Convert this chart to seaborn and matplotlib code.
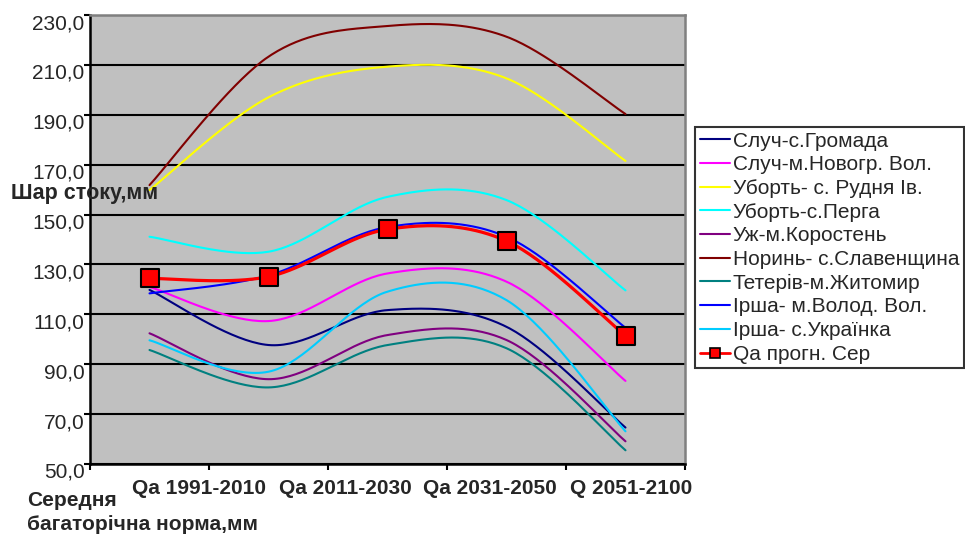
import numpy as np
import pandas as pd
import matplotlib
matplotlib.use("Agg")
import matplotlib.pyplot as plt
import matplotlib.transforms as mtransforms
from matplotlib.lines import Line2D
import seaborn as sns

# ---------------- data ----------------
categories = ["Середня\nбагаторічна норма,мм", "Qa 1991-2010", "Qa 2011-2030",
              "Qa 2031-2050", "Q 2051-2100"]
series_names = ["Случ-с.Громада", "Случ-м.Новогр. Вол.", "Уборть- с. Рудня Ів.",
                "Уборть-с.Перга", "Уж-м.Коростень", "Норинь- с.Славенщина",
                "Тетерів-м.Житомир", "Ірша- м.Волод. Вол.", "Ірша- с.Українка",
                "Qa прогн. Сер"]
sluch_hromada = [119.8, 97.7, 111.7, 105.0, 64.6]
sluch_novohr = [121.0, 107.3, 126.4, 123.1, 83.3]
ubort_rudnia = [159.8, 197.0, 209.3, 204.6, 171.5]
ubort_perha = [141.1, 135.1, 157.1, 155.8, 119.6]
uzh_korosten = [102.4, 84.0, 101.7, 99.7, 59.1]
noryn_slav = [161.8, 213.3, 225.6, 221.3, 190.3]
teteriv_zhyt = [95.7, 80.7, 97.7, 96.4, 55.5]
irsha_volod = [118.4, 125.6, 145.0, 141.1, 104.6]
irsha_ukr = [99.6, 87.0, 119.1, 115.7, 63.1]
qa_prohn = [124.4, 125.1, 144.1, 139.4, 101.4]
yticks = [50, 70, 90, 110, 130, 150, 170, 190, 210, 230]

all_values = [sluch_hromada, sluch_novohr, ubort_rudnia, ubort_perha, uzh_korosten,
              noryn_slav, teteriv_zhyt, irsha_volod, irsha_ukr, qa_prohn]
colors = ["#000080", "#FF00FF", "#FFFF00", "#00FFFF", "#800080", "#800000",
          "#008080", "#0000FF", "#00CCFF", "#FF0000"]


def smooth(xs, ys, n=40):
    """Excel-like smoothed line (Catmull-Rom Bezier through the points)."""
    P = np.column_stack([xs, ys]).astype(float)
    out = []
    m = len(P)
    for i in range(m - 1):
        p0 = P[i - 1] if i > 0 else P[i]
        p1 = P[i]
        p2 = P[i + 1]
        p3 = P[i + 2] if i + 2 < m else P[i + 1]
        c1 = p1 + (p2 - p0) / 6.0
        c2 = p2 - (p3 - p1) / 6.0
        t = np.linspace(0, 1, n)[:, None]
        seg = ((1 - t) ** 3) * p1 + 3 * ((1 - t) ** 2) * t * c1 + 3 * (1 - t) * t ** 2 * c2 + t ** 3 * p2
        if i > 0:
            seg = seg[1:]
        out.append(seg)
    return np.vstack(out)


xpos = np.arange(len(categories))
frames = []
for name, vals in zip(series_names, all_values):
    s = smooth(xpos, vals)
    frames.append(pd.DataFrame({"x": s[:, 0], "y": s[:, 1], "series": name,
                                "order": np.arange(len(s))}))
df = pd.concat(frames, ignore_index=True)
pts = pd.DataFrame({"x": xpos, "y": qa_prohn})

# ---------------- figure ----------------
sns.set_theme(style="white")
plt.rcParams["font.family"] = ["Liberation Sans", "DejaVu Sans"]

FS = 15
fig = plt.figure(figsize=(9.65, 5.35), dpi=100)
ax = fig.add_axes([90 / 965, 1 - 464 / 535, 595 / 965, 449 / 535])
ax.set_facecolor("#C0C0C0")

palette = dict(zip(series_names, colors))
thin = df[df["series"] != series_names[-1]]
sns.lineplot(data=thin, x="x", y="y", hue="series", palette=palette, sort=False,
             estimator=None, units="series", legend=False, linewidth=1.5, ax=ax,
             hue_order=series_names[:-1])
red = df[df["series"] == series_names[-1]]
sns.lineplot(data=red, x="x", y="y", color="#FF0000", sort=False, estimator=None,
             legend=False, linewidth=2.3, ax=ax)
sns.scatterplot(data=pts, x="x", y="y", marker="s", s=150, color="#FF0000",
                edgecolor="black", linewidth=1.5, zorder=5, legend=False, ax=ax)

ax.set_xlim(-0.5, len(categories) - 0.5)
ax.set_ylim(50, 230)
ax.set_yticks(yticks)
ax.set_yticklabels([f"{v:.1f}".replace(".", ",") for v in yticks], fontsize=FS)
ax.set_xticks(np.arange(-0.5, len(categories), 1.0))
ax.set_xticklabels([])
ax.set_xlabel("")
ax.set_ylabel("")
ax.grid(axis="y", color="black", linewidth=1.5)
ax.grid(axis="x", visible=False)
ax.set_axisbelow(True)
ax.tick_params(axis="both", direction="out", length=4, width=1.5, color="black",
               pad=0, left=True, bottom=True, labelsize=FS)
for side in ["left", "bottom"]:
    ax.spines[side].set_color("black")
    ax.spines[side].set_linewidth(1.8)
for side in ["top", "right"]:
    ax.spines[side].set_color("#808080")
    ax.spines[side].set_linewidth(1.8)

offset = mtransforms.ScaledTranslation(0, -0.065, fig.dpi_scale_trans)
for lbl in ax.get_yticklabels():
    lbl.set_transform(lbl.get_transform() + offset)

# category labels (placed as in the reference)
W, H = 965.0, 535.0
cat_px = [199, 345, 490, 631]
for lab, px in zip(categories[1:], cat_px):
    fig.text(px / W, 1 - 488 / H, lab, ha="center", va="center",
             fontsize=FS, fontweight="bold")
first_lines = categories[0].split("\n")
fig.text(27 / W, 1 - 500 / H, first_lines[0], ha="left", va="center",
         fontsize=FS, fontweight="bold")
fig.text(27 / W, 1 - 525 / H, first_lines[1], ha="left", va="center",
         fontsize=FS, fontweight="bold")

# y axis title
fig.text(11 / W, 1 - 194 / H, "Шар стоку,мм", ha="left", va="center",
         fontsize=15.5, fontweight="bold")

# legend
handles = [Line2D([0], [0], color=c, lw=1.5) for c in colors[:-1]]
handles.append(Line2D([0], [0], color="#FF0000", lw=2, marker="s", markersize=7,
                      markerfacecolor="#FF0000", markeredgecolor="black",
                      markeredgewidth=1.2))
leg = fig.legend(handles, series_names, loc="upper left",
                 bbox_to_anchor=(695 / W, 1 - 127 / H), borderaxespad=0,
                 fontsize=FS, frameon=True, fancybox=False, handlelength=1.45,
                 handletextpad=0.15, labelspacing=0.225, borderpad=0.22)
leg.get_frame().set_edgecolor("black")
leg.get_frame().set_linewidth(1.5)
leg.get_frame().set_facecolor("white")

fig.savefig("out.png", dpi=100, facecolor="white")
